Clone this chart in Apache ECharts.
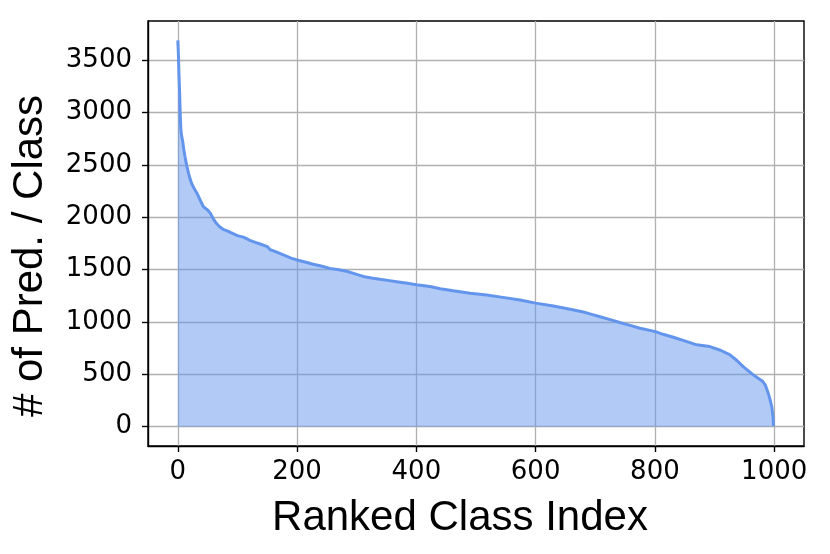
<!DOCTYPE html>
<html>
<head>
<meta charset="utf-8" />
<title>ranked classes</title>
<script src="https://cdn.jsdelivr.net/npm/echarts@6/dist/echarts.min.js"></script>
<style>
  body { margin: 0; background: #fff; }
  #main { width: 830px; height: 554px; }
</style>
</head>
<body>
<div id="main"></div>
<script>
// values (class rank -> number of predictions)
var rankIdx = [0, 1, 2, 3, 4, 5, 6, 8, 10, 12, 15, 18, 20, 23, 27, 32, 37, 43, 50, 55,
  60, 65, 70, 76, 85, 90, 100, 110, 121, 130, 138, 150, 155, 165, 177, 190, 200, 215, 227, 240,
  255, 270, 283, 300, 311, 325, 339, 355, 367, 385, 400, 423, 440, 462, 490, 518, 545, 574, 600, 630,
  658, 680, 697, 708, 725, 741, 760, 775, 801, 815, 831, 850, 870, 892, 910, 926, 938, 948, 965, 975,
  981, 985, 990, 993, 996, 998, 999];
var predCount = [3690, 3550, 3350, 3200, 3000, 2850, 2790, 2730, 2650, 2580, 2490, 2420, 2380, 2325, 2280, 2230, 2170, 2100, 2070, 2035,
  1980, 1940, 1910, 1885, 1865, 1850, 1825, 1810, 1780, 1760, 1745, 1720, 1690, 1670, 1640, 1610, 1592, 1570, 1552, 1535,
  1512, 1498, 1485, 1455, 1435, 1420, 1408, 1395, 1385, 1370, 1355, 1338, 1318, 1298, 1275, 1257, 1235, 1210, 1180, 1152,
  1122, 1095, 1068, 1050, 1022, 995, 965, 940, 908, 880, 854, 820, 782, 765, 730, 686, 630, 574, 495, 455,
  431, 400, 320, 260, 190, 100, 5];
var xTicks = [0, 200, 400, 600, 800, 1000];
var yTicks = [0, 500, 1000, 1500, 2000, 2500, 3000, 3500];

var points = [];
for (var i = 0; i < rankIdx.length; i++) {
  points.push([rankIdx[i], predCount[i]]);
}

var myChart = echarts.init(document.getElementById('main'));
var tickFont = 'DejaVu Sans';
var plain = function (v) { return String(v); };
var option = {
  animation: false,
  grid: {
    left: 148, right: 26, top: 21, bottom: 108,
    show: true, borderColor: '#000', borderWidth: 1.4
  },
  xAxis: {
    type: 'value',
    min: -50, max: 1050,
    axisLine: { show: true, onZero: false, lineStyle: { color: '#000', width: 1.4 } },
    axisTick: { show: true, customValues: xTicks, length: 6, lineStyle: { color: '#000', width: 1.4 } },
    axisLabel: { customValues: xTicks, formatter: plain, color: '#000', fontFamily: tickFont, fontSize: 26, margin: 13 },
    splitLine: { show: true, lineStyle: { color: '#b0b0b0', width: 1.3 } }
  },
  yAxis: {
    type: 'value',
    min: -184.5, max: 3874.5,
    axisLine: { show: true, onZero: false, lineStyle: { color: '#000', width: 1.4 } },
    axisTick: { show: true, customValues: yTicks, length: 6, lineStyle: { color: '#000', width: 1.4 } },
    axisLabel: { customValues: yTicks, formatter: plain, color: '#000', fontFamily: tickFont, fontSize: 26, margin: 16 },
    splitLine: { show: true, lineStyle: { color: '#b0b0b0', width: 1.3 } }
  },
  graphic: [
    {
      type: 'text', x: 460, y: 497,
      style: { text: 'Ranked Class Index', font: '42px "Liberation Sans"', fill: '#000', align: 'center' }
    },
    {
      type: 'text', x: 30, y: 256, rotation: Math.PI / 2,
      style: { text: '# of Pred. / Class', font: '42px "Liberation Sans"', fill: '#000',
        align: 'center', verticalAlign: 'middle' }
    }
  ],
  series: [
    {
      type: 'line',
      data: points,
      showSymbol: false,
      lineStyle: { color: '#6495ed', width: 3 },
      areaStyle: { color: '#6495ed', opacity: 0.5 }
    }
  ]
};
myChart.setOption(option);
</script>
</body>
</html>
